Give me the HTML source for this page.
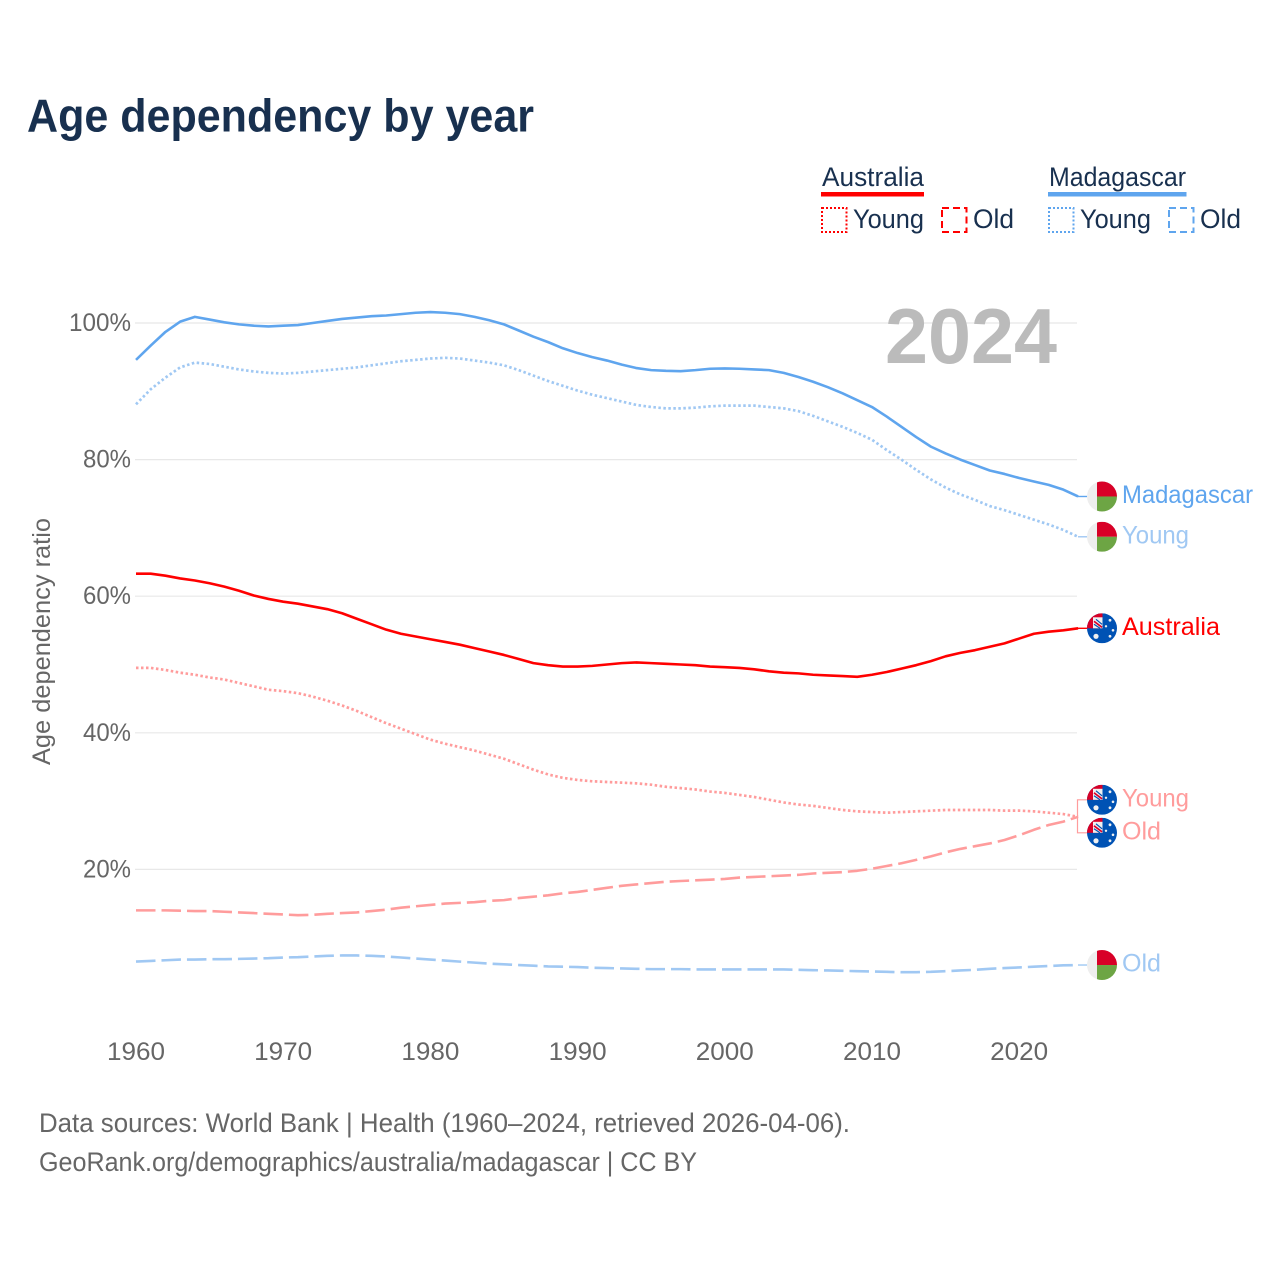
<!DOCTYPE html>
<html lang="en">
<head>
<meta charset="utf-8">
<title>Age dependency by year</title>
<style>
html,body{margin:0;padding:0;background:#fff;}
svg{display:block;font-family:"Liberation Sans",sans-serif;}
</style>
</head>
<body>
<svg id="chart" xmlns="http://www.w3.org/2000/svg" width="1280" height="1280" viewBox="0 0 1280 1280">
  <rect width="1280" height="1280" fill="#fff"/>
  <text x="27" y="131.5" font-size="46" font-weight="700" fill="#18304f" textLength="507" lengthAdjust="spacingAndGlyphs">Age dependency by year</text>

  <g>
    <text x="822" y="186" font-size="27" fill="#18304f" textLength="102" lengthAdjust="spacingAndGlyphs">Australia</text>
    <rect x="821" y="192" width="103" height="4.5" fill="#ff0000"/>
    <rect x="822" y="208" width="24.5" height="24" fill="none" stroke="#ff0000" stroke-width="2" stroke-dasharray="2 2"/>
    <text x="853" y="228" font-size="27" fill="#18304f" textLength="71" lengthAdjust="spacingAndGlyphs">Young</text>
    <rect x="942" y="208" width="24.5" height="24" fill="none" stroke="#ff0000" stroke-width="2" stroke-dasharray="7 4"/>
    <text x="973" y="228" font-size="27" fill="#18304f" textLength="41" lengthAdjust="spacingAndGlyphs">Old</text>

    <text x="1049" y="186" font-size="27" fill="#18304f" textLength="137" lengthAdjust="spacingAndGlyphs">Madagascar</text>
    <rect x="1048" y="192" width="138.5" height="4.5" fill="#5fa5ee"/>
    <rect x="1049" y="208" width="24.5" height="24" fill="none" stroke="#5fa5ee" stroke-width="2" stroke-dasharray="2 2"/>
    <text x="1080" y="228" font-size="27" fill="#18304f" textLength="71" lengthAdjust="spacingAndGlyphs">Young</text>
    <rect x="1169" y="208" width="24.5" height="24" fill="none" stroke="#5fa5ee" stroke-width="2" stroke-dasharray="7 4"/>
    <text x="1200" y="228" font-size="27" fill="#18304f" textLength="41" lengthAdjust="spacingAndGlyphs">Old</text>
  </g>

  <g id="grid"></g>
  <text x="885" y="363" font-size="78" font-weight="700" fill="#bbbbbb" textLength="172" lengthAdjust="spacingAndGlyphs">2024</text>
  <g id="yticks"></g>
  <g id="xticks"></g>
  <text transform="translate(50,641.5) rotate(-90)" text-anchor="middle" font-size="25" fill="#666666" textLength="247" lengthAdjust="spacingAndGlyphs">Age dependency ratio</text>
  <g id="series"></g>
  <g id="ends"></g>

  <text x="39" y="1132" font-size="27" fill="#666666" textLength="811" lengthAdjust="spacingAndGlyphs">Data sources: World Bank | Health (1960–2024, retrieved 2026-04-06).</text>
  <text x="39" y="1171" font-size="27" fill="#666666" textLength="658" lengthAdjust="spacingAndGlyphs">GeoRank.org/demographics/australia/madagascar | CC BY</text>
</svg>
<script>
const startYear = 1960;
const xTickYears = [1960, 1970, 1980, 1990, 2000, 2010, 2020];
const yTickValues = [20, 40, 60, 80, 100];

const madagascarTotal = [
  94.6,96.7,98.7,100.2,100.9,100.5,100.1,99.8,99.6,99.5,
  99.6,99.7,100.0,100.3,100.6,100.8,101.0,101.1,101.3,101.5,
  101.6,101.5,101.3,100.9,100.4,99.8,98.9,98.0,97.2,96.3,
  95.6,95.0,94.5,93.9,93.4,93.1,93.0,92.95,93.1,93.3,
  93.35,93.3,93.2,93.1,92.7,92.1,91.4,90.6,89.7,88.7,
  87.7,86.3,84.8,83.3,81.9,80.9,80.0,79.2,78.4,77.9,
  77.3,76.8,76.3,75.6,74.6
];
const madagascarYoung = [
  88.1,90.3,92.0,93.5,94.2,94.0,93.6,93.2,92.9,92.7,
  92.6,92.7,92.9,93.1,93.3,93.5,93.8,94.1,94.4,94.6,
  94.8,94.9,94.8,94.5,94.2,93.8,93.1,92.3,91.5,90.8,
  90.1,89.5,89.0,88.5,88.0,87.7,87.5,87.5,87.6,87.8,
  87.9,87.9,87.9,87.7,87.5,87.1,86.4,85.6,84.8,83.9,
  82.9,81.4,80.0,78.5,77.1,75.9,74.9,74.1,73.2,72.6,
  71.9,71.2,70.5,69.7,68.7
];
const madagascarOld = [
  6.5,6.6,6.7,6.8,6.8,6.85,6.85,6.9,6.95,7.0,
  7.1,7.15,7.25,7.35,7.4,7.4,7.35,7.25,7.1,6.95,
  6.8,6.65,6.5,6.35,6.2,6.1,6.0,5.9,5.8,5.75,
  5.7,5.6,5.55,5.5,5.45,5.4,5.4,5.4,5.35,5.35,
  5.35,5.35,5.35,5.35,5.35,5.3,5.25,5.2,5.15,5.1,
  5.05,5.0,4.95,4.95,5.0,5.1,5.2,5.3,5.45,5.55,
  5.65,5.75,5.85,5.95,6.0
];
const australiaTotal = [
  63.3,63.3,63.0,62.6,62.3,61.9,61.4,60.8,60.1,59.6,
  59.2,58.9,58.5,58.1,57.5,56.7,55.9,55.1,54.5,54.1,
  53.7,53.3,52.9,52.4,51.9,51.4,50.8,50.2,49.9,49.7,
  49.7,49.8,50.0,50.2,50.3,50.2,50.1,50.0,49.9,49.7,
  49.6,49.5,49.3,49.0,48.8,48.7,48.5,48.4,48.3,48.2,
  48.5,48.9,49.4,49.9,50.5,51.2,51.7,52.1,52.6,53.1,
  53.8,54.5,54.8,55.0,55.3
];
const australiaYoung = [
  49.5,49.5,49.2,48.8,48.5,48.1,47.8,47.3,46.8,46.3,
  46.1,45.8,45.3,44.7,44.0,43.2,42.3,41.4,40.6,39.8,
  39.0,38.4,37.9,37.4,36.8,36.2,35.4,34.6,33.9,33.4,
  33.1,32.9,32.8,32.7,32.6,32.4,32.1,31.9,31.7,31.4,
  31.2,30.9,30.6,30.2,29.8,29.5,29.3,29.0,28.7,28.5,
  28.4,28.3,28.4,28.5,28.6,28.7,28.7,28.7,28.7,28.6,
  28.6,28.5,28.3,28.1,27.7
];
const australiaOld = [
  14.0,14.0,14.0,13.95,13.9,13.9,13.8,13.7,13.6,13.5,
  13.4,13.3,13.35,13.5,13.6,13.7,13.9,14.1,14.4,14.6,
  14.8,15.0,15.1,15.2,15.4,15.5,15.8,16.0,16.2,16.5,
  16.7,17.0,17.3,17.6,17.8,18.0,18.2,18.3,18.4,18.5,
  18.6,18.8,18.9,19.0,19.1,19.2,19.4,19.5,19.6,19.8,
  20.1,20.5,20.9,21.4,21.9,22.5,23.0,23.4,23.8,24.3,
  25.0,25.8,26.5,27.0,27.7
];

const NS = 'http://www.w3.org/2000/svg';
function xScale(year) { return 136 + (year - 1960) * 14.72; }
function yScale(value) { return 1006 - value * 6.83; }

function make(tag, attrs, parent, text) {
  const el = document.createElementNS(NS, tag);
  for (const k in attrs) el.setAttribute(k, attrs[k]);
  if (text !== undefined) el.textContent = text;
  parent.appendChild(el);
  return el;
}

const gridG = document.getElementById('grid');
const yG = document.getElementById('yticks');
const xG = document.getElementById('xticks');
const seriesG = document.getElementById('series');
const endsG = document.getElementById('ends');

yTickValues.forEach(function (v) {
  const line = make('line', {x1: 135, x2: 1077, y1: yScale(v), y2: yScale(v), stroke: '#e8e8e8', 'stroke-width': 1.2}, gridG);
  
  
  const label = make('text', {x: 131, y: yScale(v) + 8, 'text-anchor': 'end', 'font-size': 25, fill: '#666666', textLength: v === 100 ? 62 : 48, lengthAdjust: 'spacingAndGlyphs'}, yG, v + '%');
  
  
});

xTickYears.forEach(function (yr) {
  const label = make('text', {x: xScale(yr), y: 1060, 'text-anchor': 'middle', 'font-size': 25, fill: '#666666', textLength: 58, lengthAdjust: 'spacingAndGlyphs'}, xG, String(yr));
  
  
});

function drawLine(values, color, width, dash, name) {
  const pts = values.map(function (v, i) {
    return xScale(startYear + i).toFixed(2) + ',' + yScale(v).toFixed(2);
  }).join(' ');
  const attrs = {points: pts, fill: 'none', stroke: color, 'stroke-width': width, 'stroke-linejoin': 'round'};
  if (dash) attrs['stroke-dasharray'] = dash;
  const line = make('polyline', attrs, seriesG);
  
  
}

const BLUE = '#5fa5ee', LBLUE = '#a0c8f3', RED = '#ff0000', PINK = '#ff9c9c';
drawLine(australiaOld, PINK, 2.6, '19.5 6', 'line-australia-old');
drawLine(australiaYoung, PINK, 2.7, '2.5 2.5', 'line-australia-young');
drawLine(australiaTotal, RED, 2.6, '', 'line-australia-total');
drawLine(madagascarOld, LBLUE, 2.6, '19.5 6', 'line-madagascar-old');
drawLine(madagascarYoung, LBLUE, 2.7, '2.5 2.5', 'line-madagascar-young');
drawLine(madagascarTotal, BLUE, 2.6, '', 'line-madagascar-total');

let clipCount = 0;
function drawFlag(kind, cy) {
  const cx = 1102, r = 15;
  const g = make('g', {}, endsG);
  
  
  clipCount += 1;
  const clipId = 'flag-clip-' + clipCount;
  const clip = make('clipPath', {id: clipId}, g);
  make('circle', {cx: cx, cy: cy, r: r}, clip);
  const inner = make('g', {'clip-path': 'url(#' + clipId + ')'}, g);
  if (kind === 'madagascar') {
    make('rect', {x: cx - r, y: cy - r, width: 2 * r, height: 2 * r, fill: '#eeeeee'}, inner);
    make('rect', {x: cx - 5, y: cy - r, width: r + 5, height: r, fill: '#d80027'}, inner);
    make('rect', {x: cx - 5, y: cy, width: r + 5, height: r, fill: '#6da544'}, inner);
  } else {
    make('rect', {x: cx - r, y: cy - r, width: 2 * r, height: 2 * r, fill: '#0052b4'}, inner);
    make('rect', {x: cx - r, y: cy - r, width: r + 0.5, height: r, fill: '#d80027'}, inner);
    make('rect', {x: cx - 9, y: cy - 11, width: 9.5, height: 11, fill: '#f0f0f0'}, inner);
    make('line', {x1: cx - 8, y1: cy - 7, x2: cx, y2: cy - 1, stroke: '#d80027', 'stroke-width': 1.6}, inner);
    make('line', {x1: cx - 8, y1: cy - 4, x2: cx - 2, y2: cy, stroke: '#0052b4', 'stroke-width': 1.2}, inner);
    make('line', {x1: cx - 6, y1: cy - 9, x2: cx, y2: cy - 4, stroke: '#0052b4', 'stroke-width': 1.2}, inner);
    const stars = [[-6, 8, 2.6], [8, -8, 1.4], [11, 2, 1.3], [4, -2, 1.2], [8, 8, 1.4]];
    stars.forEach(function (s) {
      make('circle', {cx: cx + s[0], cy: cy + s[1], r: s[2], fill: '#f0f0f0'}, inner);
    });
  }
}

function drawEnd(values, offset, text, color, kind, dash, textWidth, nameKey) {
  const lineY = yScale(values[values.length - 1]);
  const cy = lineY + offset;
  if (offset === 0) {
    const stub = make('line', {x1: 1078, x2: 1087, y1: lineY, y2: lineY, stroke: color, 'stroke-width': 1.4}, endsG);
    
    
  } else {
    const bracket = make('polyline', {points: '1078,' + lineY + ' 1077.5,' + lineY + ' 1077.5,' + cy + ' 1088,' + cy, fill: 'none', stroke: color, 'stroke-width': 1.2}, endsG);
    
    
  }
  drawFlag(kind, cy);
  const label = make('text', {x: 1122, y: cy + 6.5, 'font-size': 25, fill: color, textLength: textWidth, lengthAdjust: 'spacingAndGlyphs'}, endsG, text);
  
  
}

drawEnd(madagascarTotal, 0, 'Madagascar', BLUE, 'madagascar', '', 131, 'madagascar-total');
drawEnd(madagascarYoung, 0, 'Young', LBLUE, 'madagascar', '', 67, 'madagascar-young');
drawEnd(australiaTotal, 0, 'Australia', RED, 'australia', '', 98, 'australia-total');
drawEnd(australiaYoung, -17, 'Young', PINK, 'australia', '', 67, 'australia-young');
drawEnd(australiaOld, 16, 'Old', PINK, 'australia', '', 39, 'australia-old');
drawEnd(madagascarOld, 0, 'Old', LBLUE, 'madagascar', '', 39, 'madagascar-old');
</script>
</body>
</html>
